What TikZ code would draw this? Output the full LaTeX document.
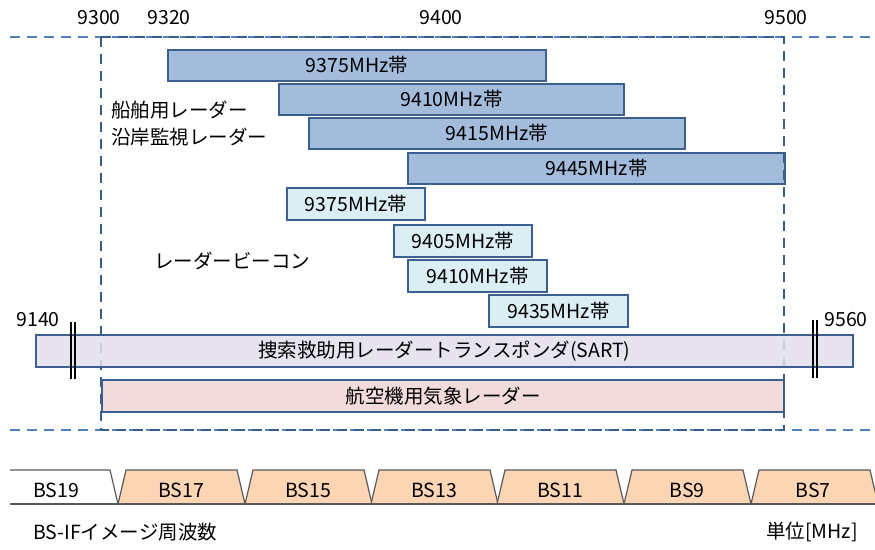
\documentclass[tikz,border=0pt]{standalone}
\usepackage{fontspec}
\setmainfont{Noto Sans CJK JP}
\definecolor{dbfill}{HTML}{A4BCDC}
\definecolor{dbline}{HTML}{3B5F8F}
\definecolor{lbfill}{HTML}{DBEEF4}
\definecolor{sartfill}{HTML}{E4DFEC}
\definecolor{airfill}{HTML}{F2DCDB}
\definecolor{bsfill}{HTML}{FCD5B5}
\definecolor{dashlight}{HTML}{4F81BD}
\definecolor{dashdark}{HTML}{385D8A}
\tikzset{
  barbase/.style={draw=dbline, line width=2.8pt, anchor=north west, inner sep=0pt, outer sep=0pt, font=\fontsize{19.5}{19.5}\selectfont},
  darkbar/.style={barbase, fill=dbfill},
  lightbar/.style={barbase, fill=lbfill},
  sartbar/.style={barbase, fill=sartfill},
  airbar/.style={barbase, fill=airfill},
  lbl/.style={font=\fontsize{19.5}{19.5}\selectfont, inner sep=0pt},
  dashline/.style={dashed, dash pattern=on 10pt off 7pt, line width=2.5pt},
  trap/.style={draw=black!65, line width=1.2pt, fill=bsfill},
  dblbar/.style={line width=1.2pt, black}
}
\begin{document}
\begin{tikzpicture}[x=1pt, y=-1pt]
\useasboundingbox (0,0) rectangle (875,549);
% axis labels
\node[lbl] (t9300) at (99,18) {9300};
\node[lbl] (t9320) at (169,18) {9320};
\node[lbl] (t9400) at (441,18) {9400};
\node[lbl] (t9500) at (786,18) {9500};
% outer dashed lines
\draw[dashline, dashlight] (10,37) -- (875,37);
\draw[dashline, dashlight] (10,430) -- (875,430);
% marine radar bars
\node[darkbar, minimum width=378pt, minimum height=31pt] (m1) at (168,50) {9375MHz帯};
\node[darkbar, minimum width=345pt, minimum height=31pt] (m2) at (279,84) {9410MHz帯};
\node[darkbar, minimum width=376pt, minimum height=31pt] (m3) at (309,118) {9415MHz帯};
\node[darkbar, minimum width=377pt, minimum height=31pt] (m4) at (408,153) {9445MHz帯};
\node[lbl, anchor=west] (ship) at (111,110) {船舶用レーダー};
\node[lbl, anchor=west] (coast) at (111,137) {沿岸監視レーダー};
% beacon bars
\node[lightbar, minimum width=138pt, minimum height=32pt] (r1) at (287,188) {9375MHz帯};
\node[lightbar, minimum width=138pt, minimum height=32pt] (r2) at (394,225) {9405MHz帯};
\node[lightbar, minimum width=139pt, minimum height=32pt] (r3) at (408,260) {9410MHz帯};
\node[lightbar, minimum width=139pt, minimum height=32pt] (r4) at (489,295) {9435MHz帯};
\node[lbl, anchor=west] (beacon) at (154,261) {レーダービーコン};
% dashed frame
\draw[dashline, dashdark] (101,37) rectangle (784,430);
% SART
\node[sartbar, fill opacity=0.85, text opacity=1, minimum width=817pt, minimum height=32pt] (sart) at (36,335) {捜索救助用レーダートランスポンダ(SART)};
\draw[dblbar] (71,322) -- (71,379) (75,322) -- (75,379);
\draw[dblbar] (813,320) -- (813,378) (817,320) -- (817,378);
\node[lbl] (t9140) at (38,320) {9140};
\node[lbl] (t9560) at (846,320) {9560};
% aircraft weather radar
\node[airbar, minimum width=682pt, minimum height=32pt] (air) at (102,380) {航空機用気象レーダー};
% BS-IF band
\draw[draw=black!65, line width=1.2pt] (10,470) -- (110,470) -- (118,504);
\foreach \x/\n in {118/BS17, 245/BS15, 371/BS13, 497/BS11, 624/BS9, 751/BS7} {
  \path[trap] (\x,504) -- (\x+8,470) -- (\x+119,470) -- (\x+127,504);
}
\draw[draw=black!65, line width=1.2pt] (10,504) -- (875,504);
\node[lbl] (bs19) at (56,490) {BS19};
\node[lbl] (bs17) at (181,490) {BS17};
\node[lbl] (bs15) at (308,490) {BS15};
\node[lbl] (bs13) at (434,490) {BS13};
\node[lbl] (bs11) at (560,490) {BS11};
\node[lbl] (bs9) at (687,490) {BS9};
\node[lbl] (bs7) at (813,490) {BS7};
\node[lbl, anchor=west] (bsif) at (33,532) {BS-IFイメージ周波数};
\node[lbl, anchor=east] (unit) at (858,532) {単位[MHz]};
\end{tikzpicture}
\end{document}
